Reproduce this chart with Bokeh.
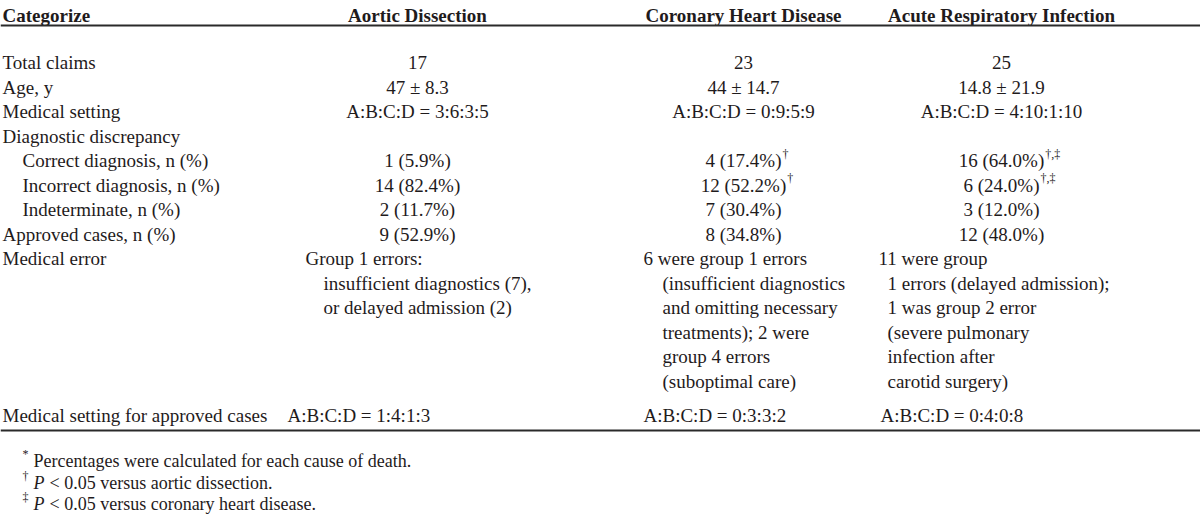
from bokeh.plotting import figure
from bokeh.models import ColumnDataSource, Range1d, Span
from bokeh.core.properties import value
from bokeh.embed import file_html
from bokeh.resources import INLINE

# ---------------- data ----------------
header_label = "Categorize"
categories = ["Aortic Dissection", "Coronary Heart Disease", "Acute Respiratory Infection"]

row_labels = ["Total claims", "Age, y", "Medical setting", "Diagnostic discrepancy",
              "Correct diagnosis, n (%)", "Incorrect diagnosis, n (%)", "Indeterminate, n (%)",
              "Approved cases, n (%)"]
row_indent = [0, 0, 0, 0, 1, 1, 1, 0]

total_claims = ["17", "23", "25"]
age = ["47 \u00b1 8.3", "44 \u00b1 14.7", "14.8 \u00b1 21.9"]
medical_setting = ["A:B:C:D = 3:6:3:5", "A:B:C:D = 0:9:5:9", "A:B:C:D = 4:10:1:10"]
discrepancy = ["", "", ""]
correct_dx = ["1 (5.9%)", "4 (17.4%)", "16 (64.0%)"]
correct_sup = ["", "\u2020", "\u2020,\u2021"]
incorrect_dx = ["14 (82.4%)", "12 (52.2%)", "6 (24.0%)"]
incorrect_sup = ["", "\u2020", "\u2020,\u2021"]
indeterminate = ["2 (11.7%)", "7 (30.4%)", "3 (12.0%)"]
approved = ["9 (52.9%)", "8 (34.8%)", "12 (48.0%)"]

error_label = "Medical error"
medical_error = [
    ["Group 1 errors:", "insufficient diagnostics (7),", "or delayed admission (2)"],
    ["6 were group 1 errors", "(insufficient diagnostics", "and omitting necessary",
     "treatments); 2 were", "group 4 errors", "(suboptimal care)"],
    ["11 were group", "1 errors (delayed admission);", "1 was group 2 error",
     "(severe pulmonary", "infection after", "carotid surgery)"],
]

approved_setting_label = "Medical setting for approved cases"
approved_setting = ["A:B:C:D = 1:4:1:3", "A:B:C:D = 0:3:3:2", "A:B:C:D = 0:4:0:8"]

footnote_marks = ["*", "\u2020", "\u2021"]
footnote_italic = ["", "P", "P"]
footnote_texts = ["Percentages were calculated for each cause of death.",
                  "< 0.05 versus aortic dissection.",
                  "< 0.05 versus coronary heart disease."]

# ---------------- layout ----------------
FONT = "Liberation Serif"
INK = "#1f1b1c"
FS = 19
col_center = [417, 743, 1001]
col_left_first = [305, 643, 878]
col_left_rest = [323, 662, 887]
col_left_last = [287, 643, 880]
label_x = 2
indent_x = 22
header_base = 15
rule_top = 25
row_pitch = 24.5
row_base0 = 62
err_pitch = 24.5
last_base = 415
rule_bottom = 430
foot_base = [460, 482, 503]
foot_mark_x = 22

row_base = [row_base0 + i * row_pitch for i in range(len(row_labels))]
err_base0 = row_base[-1] + row_pitch

TIMES = {' ': 250, '(': 333, ')': 333, '.': 250, '%': 833, ',': 250}
for d in "0123456789":
    TIMES[d] = 500


def text_width(s, size):
    return sum(TIMES.get(ch, 500) for ch in s) * size / 1000.0


p = figure(width=1200, height=516, x_range=Range1d(0, 1200), y_range=Range1d(516, 0),
           output_backend="svg", toolbar_location=None,
           x_axis_location=None, y_axis_location=None, min_border=0)
p.grid.visible = False
p.outline_line_color = None
p.background_fill_color = "white"
p.border_fill_color = "white"


def put(xs, ys, texts, align="left", size=FS, style="normal"):
    src = ColumnDataSource(dict(x=xs, y=ys, text=texts))
    p.text(x="x", y="y", text="text", source=src, text_font=value(FONT),
           text_font_size=value(f"{size}px"), text_color=INK, text_align=align,
           text_baseline="alphabetic", text_font_style=style)


# header
put([label_x], [header_base], [header_label], style="bold")
put(col_center, [header_base] * 3, categories, align="center", style="bold")

# rules
for loc in (rule_top, rule_bottom):
    p.add_layout(Span(location=loc, dimension="width", line_color="#2a2a2a", line_width=2))

# row labels
put([label_x if ind == 0 else indent_x for ind in row_indent], row_base, row_labels)

# centered values
value_rows = [total_claims, age, medical_setting, discrepancy, correct_dx, incorrect_dx,
              indeterminate, approved]
vx, vy, vt = [], [], []
for yb, vals in zip(row_base, value_rows):
    for c, v in enumerate(vals):
        if v:
            vx.append(col_center[c]); vy.append(yb); vt.append(v)
put(vx, vy, vt, align="center")

# superscripts
sx, sy, st = [], [], []
for yb, vals, sups in ((row_base[4], correct_dx, correct_sup), (row_base[5], incorrect_dx, incorrect_sup)):
    for c, (v, s) in enumerate(zip(vals, sups)):
        if s:
            sx.append(col_center[c] + text_width(v, FS) / 2 + 1)
            sy.append(yb - 7)
            st.append(s)
put(sx, sy, st, size=12)

# medical error
ex, ey, et = [], [], []
for c, lines in enumerate(medical_error):
    for i, line in enumerate(lines):
        ex.append(col_left_first[c] if i == 0 else col_left_rest[c])
        ey.append(err_base0 + i * err_pitch)
        et.append(line)
put([label_x], [err_base0], [error_label])
put(ex, ey, et)

# medical setting for approved cases
put([label_x], [last_base], [approved_setting_label])
put(col_left_last, [last_base] * 3, approved_setting)

# footnotes
FFS = 18
put([foot_mark_x] * 3, [b - 7 for b in foot_base], footnote_marks, size=12)
mx, my, mt, rx, ry, rt = [], [], [], [], [], []
for b, it, tx in zip(foot_base, footnote_italic, footnote_texts):
    x0 = foot_mark_x + 11
    if it:
        mx.append(x0); my.append(b); mt.append(it)
        x0 += 611 * FFS / 1000.0 + 5
    rx.append(x0); ry.append(b); rt.append(tx)
put(mx, my, mt, size=FFS, style="italic")
put(rx, ry, rt, size=FFS)

open("out.html", "w").write(file_html(p, INLINE))
